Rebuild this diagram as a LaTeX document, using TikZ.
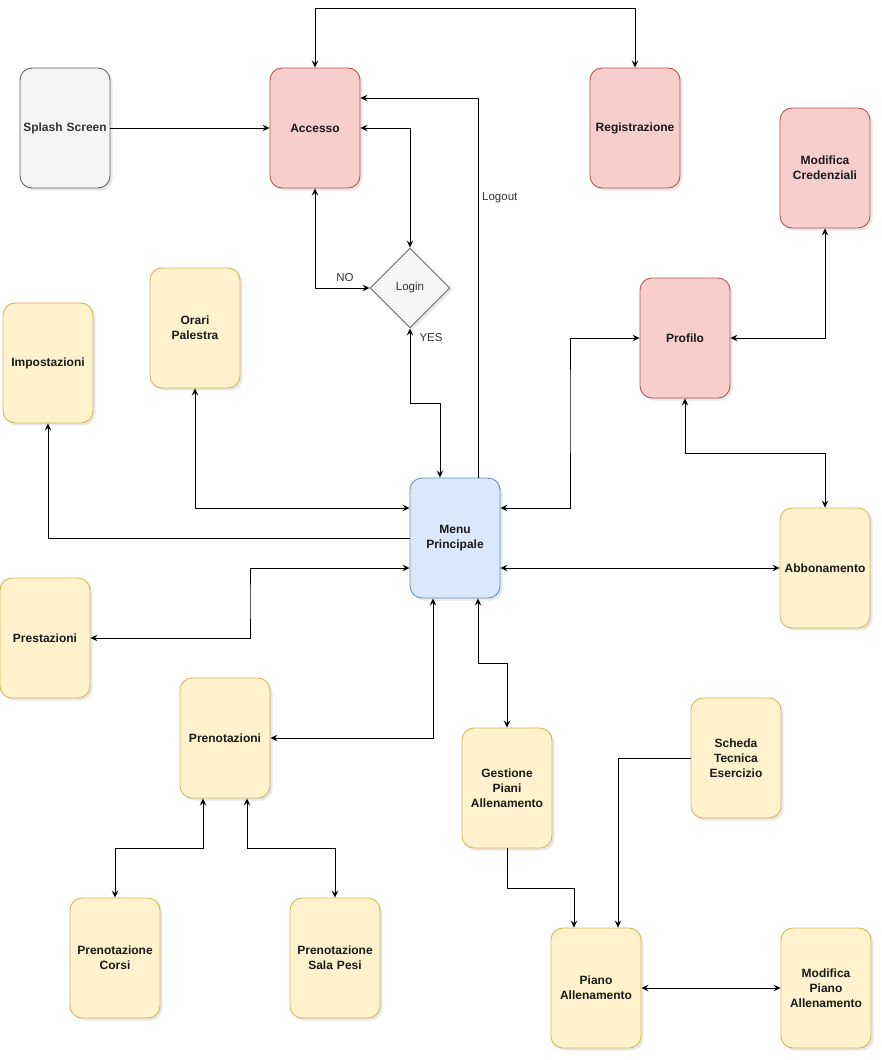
\documentclass[tikz,border=0pt]{standalone}
\usepackage{fontspec}
\setmainfont{Liberation Sans}
\usetikzlibrary{arrows.meta,shadows,shapes.geometric}
\definecolor{redF}{HTML}{F8CECC}\definecolor{redD}{HTML}{B85450}
\definecolor{yelF}{HTML}{FFF2CC}\definecolor{yelD}{HTML}{D6B656}
\definecolor{bluF}{HTML}{DAE8FC}\definecolor{bluD}{HTML}{6C8EBF}
\definecolor{gryF}{HTML}{F5F5F5}\definecolor{gryD}{HTML}{666666}
\definecolor{txtG}{HTML}{333333}
\definecolor{txtK}{HTML}{1A1A1A}
\tikzset{
  box/.style={rectangle, rounded corners=12pt, minimum width=90pt, minimum height=120pt,
    inner sep=0pt, text width=88pt, align=center, line width=0.9pt, text=txtK,
    font=\fontsize{12}{15}\selectfont\bfseries,
    drop shadow={opacity=0.18, shadow xshift=2.5pt, shadow yshift=-2.5pt}},
  redbox/.style={box, fill=redF, draw=redD},
  yelbox/.style={box, fill=yelF, draw=yelD},
  blubox/.style={box, fill=bluF, draw=bluD},
  grybox/.style={box, fill=gryF, draw=gryD, text=txtG},
  decision/.style={diamond, aspect=1, minimum width=80pt, minimum height=80pt, inner sep=0pt,
    fill=gryF, draw=gryD, line width=0.9pt, text=txtG, font=\fontsize{11.5}{13}\selectfont,
    drop shadow={opacity=0.18, shadow xshift=2.5pt, shadow yshift=-2.5pt}},
  tip/.tip={Stealth[length=7pt,width=6.5pt,inset=2.5pt]},
  conn/.style={line width=0.9pt, draw=black},
  oneway/.style={conn, -tip},
  twoway/.style={conn, tip-tip},
  lbl/.style={font=\fontsize{11.5}{13}\selectfont, text=txtG, inner sep=0pt}
}
\begin{document}
\begin{tikzpicture}[x=1pt,y=-1pt]
\useasboundingbox (0,0) rectangle (882,1060);
% nodes
\node[grybox] (splash) at (65,128) {Splash Screen};
\node[redbox] (acc) at (315,128) {Accesso};
\node[redbox] (reg) at (635,128) {Registrazione};
\node[redbox] (modc) at (825,168) {Modifica\\Credenziali};
\node[decision] (login) at (410,288) {Login};
\node[yelbox] (orari) at (195,328) {Orari\\Palestra};
\node[yelbox] (imp) at (48,363) {Impostazioni};
\node[redbox] (prof) at (685,338) {Profilo};
\node[blubox] (menu) at (455,538) {Menu\\Principale};
\node[yelbox] (abb) at (825,568) {Abbonamento};
\node[yelbox] (prest) at (45,638) {Prestazioni};
\node[yelbox] (pren) at (225,738) {Prenotazioni};
\node[yelbox] (gest) at (507,788) {Gestione\\Piani\\Allenamento};
\node[yelbox] (scheda) at (736,758) {Scheda\\Tecnica\\Esercizio};
\node[yelbox] (corsi) at (115,958) {Prenotazione\\Corsi};
\node[yelbox] (pesi) at (335,958) {Prenotazione\\Sala Pesi};
\node[yelbox] (piano) at (596,988) {Piano\\Allenamento};
\node[yelbox] (modp) at (826,988) {Modifica\\Piano\\Allenamento};
% connectors
\draw[oneway] (splash.east) -- (acc.west);
\draw[twoway] (acc.north) -- (acc.north |- 0,8) -| (reg.north);
\draw[oneway] ([xshift=23pt]menu.north) |- ([yshift=30pt]acc.east);
\node[lbl, anchor=west] (logout) at (482,198) {Logout};
\draw[twoway] (acc.east) -| (login.north);
\draw[twoway] (acc.south) |- (login.west);
\node[lbl] (no) at (345,278) {NO};
\draw[twoway] (login.south) -- (login.south |- 0,403) -| ([xshift=-15pt]menu.north);
\node[lbl] (yes) at (431,338) {YES};
\draw[twoway] (orari.south) |- ([yshift=30pt]menu.west);
\draw[oneway] (menu.west) -| (imp.south);
\draw[twoway] ([yshift=-30pt]menu.west) -| (250,600) |- (prest.east);
\draw[twoway] ([yshift=30pt]menu.east) -| (570,400) |- (prof.west);
\draw[twoway] ([yshift=-30pt]menu.east) -- (abb.west);
\draw[twoway] (prof.south) -- (prof.south |- 0,453) -| (abb.north);
\draw[twoway] (prof.east) -| (modc.south);
\draw[twoway] ([xshift=-22pt]menu.south) |- (pren.east);
\draw[twoway] ([xshift=23pt]menu.south) -- ++(0,65) -| (gest.north);
\draw[twoway] ([xshift=-22pt]pren.south) -- ++(0,50) -| (corsi.north);
\draw[twoway] ([xshift=22pt]pren.south) -- ++(0,50) -| (pesi.north);
\draw[oneway] (gest.south) -- ++(0,40) -| ([xshift=-22pt]piano.north);
\draw[oneway] (scheda.west) -| ([xshift=22pt]piano.north);
\draw[twoway] (piano.east) -- (modp.west);
\end{tikzpicture}
\end{document}
